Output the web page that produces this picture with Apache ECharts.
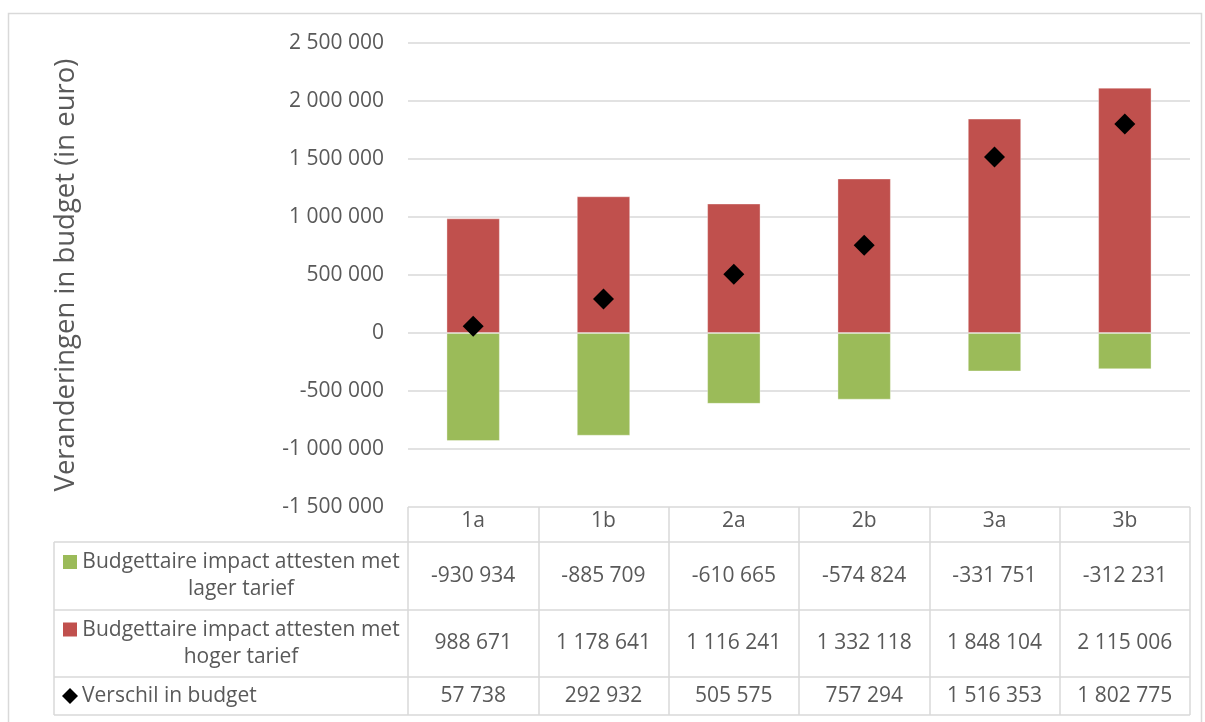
<!DOCTYPE html>
<html>
<head>
<meta charset="utf-8">
<script src="https://cdn.jsdelivr.net/npm/echarts@6/dist/echarts.min.js"></script>
<style>
html,body{margin:0;padding:0;background:#fff;}
#c{width:1205px;height:722px;}
</style>
</head>
<body>
<div id="c"></div>
<script>
// ---- data ----
const categories = ['1a', '1b', '2a', '2b', '3a', '3b'];
const lagerTarief = [-930934, -885709, -610665, -574824, -331751, -312231];
const hogerTarief = [988671, 1178641, 1116241, 1332118, 1848104, 2115006];
const verschil = [57738, 292932, 505575, 757294, 1516353, 1802775];
const seriesNames = ['Budgettaire impact attesten met\nlager tarief', 'Budgettaire impact attesten met\nhoger tarief', 'Verschil in budget'];
const yAxisTitle = 'Veranderingen in budget (in euro)';

// ---- style ----
const FONT = '"Open Sans", "Noto Sans", sans-serif';
const FS = 21;
const TXT = '#595959';
const LINE = '#d9d9d9';
const GREEN = '#9BBB59';
const RED = '#C0504D';

function fmt(v) {
  const neg = v < 0;
  const s = String(Math.abs(Math.round(v))).replace(/\B(?=(\d{3})+(?!\d))/g, ' ');
  return (neg ? '-' : '') + s;
}

const GRID_L = 408, GRID_R = 15, GRID_T = 43, GRID_B = 215;
const W = 1205, H = 722;
const gridBottomY = H - GRID_B;   // 507
const gridRightX = W - GRID_R;    // 1190
const TABLE_LEFT = 54;
const ROWS = [542, 610, 677, 715]; // row boundaries below header

const chart = echarts.init(document.getElementById('c'), null, {renderer: 'canvas'});

chart.setOption({
  animation: false,
  backgroundColor: '#fff',
  textStyle: {fontFamily: FONT},
  grid: {left: GRID_L, right: GRID_R, top: GRID_T, bottom: GRID_B, containLabel: false},
  xAxis: {
    type: 'category',
    data: categories,
    position: 'bottom',
    axisLine: {show: false, onZero: false},
    axisTick: {show: true, length: ROWS[3] - gridBottomY, lineStyle: {color: LINE, width: 1.5}},
    axisLabel: {fontSize: FS, color: TXT, fontFamily: FONT, margin: 4},
    splitLine: {show: false}
  },
  yAxis: {
    type: 'value',
    min: -1500000, max: 2500000, interval: 500000,
    name: yAxisTitle,
    nameLocation: 'middle',
    nameRotate: 90,
    nameGap: 328,
    nameTextStyle: {fontSize: 27.5, color: TXT, fontFamily: FONT},
    axisLine: {show: false},
    axisTick: {show: false},
    axisLabel: {fontSize: FS, color: TXT, fontFamily: FONT, margin: 24, formatter: v => fmt(v)},
    splitLine: {lineStyle: {color: LINE, width: 1.5}}
  },
  series: [
    {name: 'lager', type: 'bar', stack: 'b', data: lagerTarief, barWidth: '41%',
      itemStyle: {color: GREEN, borderColor: 'rgba(255,255,255,0.35)', borderWidth: 1}},
    {name: 'hoger', type: 'bar', stack: 'b', data: hogerTarief, barWidth: '41%',
      itemStyle: {color: RED, borderColor: 'rgba(255,255,255,0.35)', borderWidth: 1}},
    {name: 'verschil', type: 'scatter', data: verschil, symbol: 'diamond', symbolSize: 21,
      itemStyle: {color: '#000', opacity: 1}, z: 5}
  ]
});

// ---- data table below the plot ----
const g = [];
const lineStyle = {stroke: LINE, lineWidth: 1.5};
// outer chart border
g.push({type: 'rect', shape: {x: 8.5, y: 13.5, width: 1193, height: 730}, style: {fill: null, stroke: LINE, lineWidth: 1.5}, silent: true});
// horizontal lines
ROWS.forEach(y => {
  g.push({type: 'line', shape: {x1: TABLE_LEFT, y1: y, x2: gridRightX, y2: y}, style: lineStyle, silent: true});
});
// left vertical line of legend column
g.push({type: 'line', shape: {x1: TABLE_LEFT, y1: ROWS[0], x2: TABLE_LEFT, y2: ROWS[3]}, style: lineStyle, silent: true});

const rowsData = [lagerTarief, hogerTarief, verschil];
rowsData.forEach((arr, r) => {
  const yc = (ROWS[r] + ROWS[r + 1]) / 2;
  arr.forEach((v, i) => {
    const xc = chart.convertToPixel({xAxisIndex: 0}, categories[i]);
    g.push({type: 'text', x: xc, y: yc, style: {text: fmt(v), fill: TXT, font: FS + 'px ' + FONT, align: 'center', verticalAlign: 'middle'}, silent: true});
  });
});

// legend column
const legendCx = 241;
[0, 1].forEach(r => {
  const yc = (ROWS[r] + ROWS[r + 1]) / 2;
  g.push({type: 'text', x: legendCx, y: yc, style: {text: seriesNames[r], fill: TXT, font: FS + 'px ' + FONT, align: 'center', verticalAlign: 'middle', lineHeight: 27}, silent: true});
  g.push({type: 'rect', shape: {x: 63, y: yc - 21, width: 14, height: 14}, style: {fill: r === 0 ? GREEN : RED}, silent: true});
});
{
  const yc = (ROWS[2] + ROWS[3]) / 2;
  g.push({type: 'text', x: 82, y: yc, style: {text: seriesNames[2], fill: TXT, font: FS + 'px ' + FONT, align: 'left', verticalAlign: 'middle'}, silent: true});
  g.push({type: 'polygon', shape: {points: [[70, yc - 8], [78, yc], [70, yc + 8], [62, yc]]}, style: {fill: '#000'}, silent: true});
}

chart.setOption({graphic: g});
</script>
</body>
</html>
